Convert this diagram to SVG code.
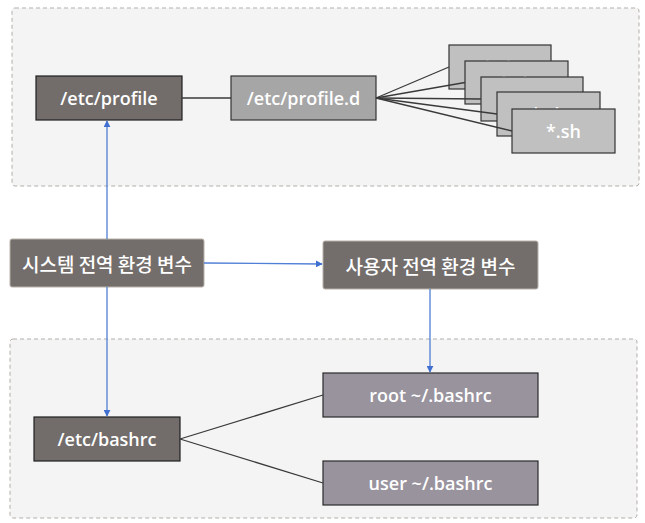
<svg xmlns="http://www.w3.org/2000/svg" width="645" height="523" viewBox="0 0 645 523">
<style>
.bg{fill:#ffffff}
.cont{fill:#f4f4f4;stroke:#b3aea8;stroke-width:1;stroke-dasharray:4 3}
.dark{fill:#726d6b;stroke:#1f1f1f;stroke-width:1.2}
.var{fill:#736e6c;stroke:#b8b0a8;stroke-width:1}
.pd{fill:#a6a6a6;stroke:#333;stroke-width:1.2}
.sh{fill:#c0c0c0;stroke:#333;stroke-width:1.2}
.usr{fill:#99939e;stroke:#2a2a2a;stroke-width:1.2}
.t{fill:#ffffff;font-family:"Open Sans","Noto Sans","Noto Sans CJK KR",sans-serif;font-size:18px;font-weight:600;text-anchor:middle;dominant-baseline:central}
.k{font-family:"Noto Sans CJK KR","Noto Sans",sans-serif;font-size:19px;font-weight:500}
.ln{stroke:#3a3a3a;stroke-width:1.3;fill:none}
.bl{stroke:#4f7fd6;stroke-width:1.3;fill:none}
</style>
<defs>
<marker id="ah" viewBox="0 0 10 10" refX="9" refY="5" markerWidth="7" markerHeight="7" markerUnits="userSpaceOnUse" orient="auto">
<path d="M0,0 L10,5 L0,10 z" fill="#3f6fd0"/>
</marker>
</defs>
<rect class="bg" x="0" y="0" width="645" height="523"/>
<g id="top-container"><rect class="cont" x="12" y="8" width="627" height="178" rx="3"/></g>
<g id="bottom-container"><rect class="cont" x="10" y="339" width="627" height="179" rx="3"/></g>

<g id="etc-profile"><rect class="dark" x="36" y="76" width="146" height="44"/><text class="t" x="109" y="98">/etc/profile</text></g>
<g id="etc-profile-d"><rect class="pd" x="231" y="76" width="145" height="44"/><text class="t" x="303.5" y="98">/etc/profile.d</text></g>
<g id="sh1"><rect class="sh" x="449" y="45" width="102" height="44"/><text class="t" x="500" y="67">*.sh</text></g>
<g id="sh2"><rect class="sh" x="465" y="61" width="103" height="43"/><text class="t" x="516.5" y="82.5">*.sh</text></g>
<g id="sh3"><rect class="sh" x="481" y="77" width="102" height="44"/><text class="t" x="532" y="99">*.sh</text></g>
<g id="sh4"><rect class="sh" x="497" y="92" width="103" height="44"/><text class="t" x="548.5" y="114">*.sh</text></g>
<g id="sh5"><rect class="sh" x="512" y="109" width="103" height="44"/><text class="t" x="563.5" y="131">*.sh</text></g>

<g id="system-env"><rect class="var" x="10" y="239" width="194" height="48" rx="2"/><text class="t k" x="107" y="263">시스템 전역 환경 변수</text></g>
<g id="user-env"><rect class="var" x="323" y="241" width="215" height="48" rx="2"/><text class="t k" x="430.5" y="265">사용자 전역 환경 변수</text></g>

<g id="etc-bashrc"><rect class="dark" x="34" y="417" width="146" height="44"/><text class="t" x="107" y="439">/etc/bashrc</text></g>
<g id="root-bashrc"><rect class="usr" x="323" y="373" width="215" height="44"/><text class="t" x="430.5" y="395">root ~/.bashrc</text></g>
<g id="user-bashrc"><rect class="usr" x="323" y="461" width="215" height="44"/><text class="t" x="430.5" y="483">user ~/.bashrc</text></g>

<g id="connectors">
<line class="ln" x1="182" y1="98" x2="231" y2="98"/>
<line class="ln" x1="376" y1="98" x2="449" y2="67"/>
<line class="ln" x1="376" y1="98" x2="465" y2="82.5"/>
<line class="ln" x1="376" y1="98" x2="481" y2="99"/>
<line class="ln" x1="376" y1="98" x2="497" y2="114"/>
<line class="ln" x1="376" y1="98" x2="512" y2="131"/>
<line class="bl" x1="107" y1="239" x2="107" y2="121" marker-end="url(#ah)"/>
<line class="bl" x1="107" y1="287" x2="107" y2="416" marker-end="url(#ah)"/>
<line class="bl" x1="204" y1="263" x2="322" y2="264" marker-end="url(#ah)"/>
<line class="bl" x1="430" y1="289" x2="430" y2="372" marker-end="url(#ah)"/>
<line class="ln" x1="180" y1="439" x2="323" y2="395"/>
<line class="ln" x1="180" y1="439" x2="323" y2="483"/>
</g>
</svg>
